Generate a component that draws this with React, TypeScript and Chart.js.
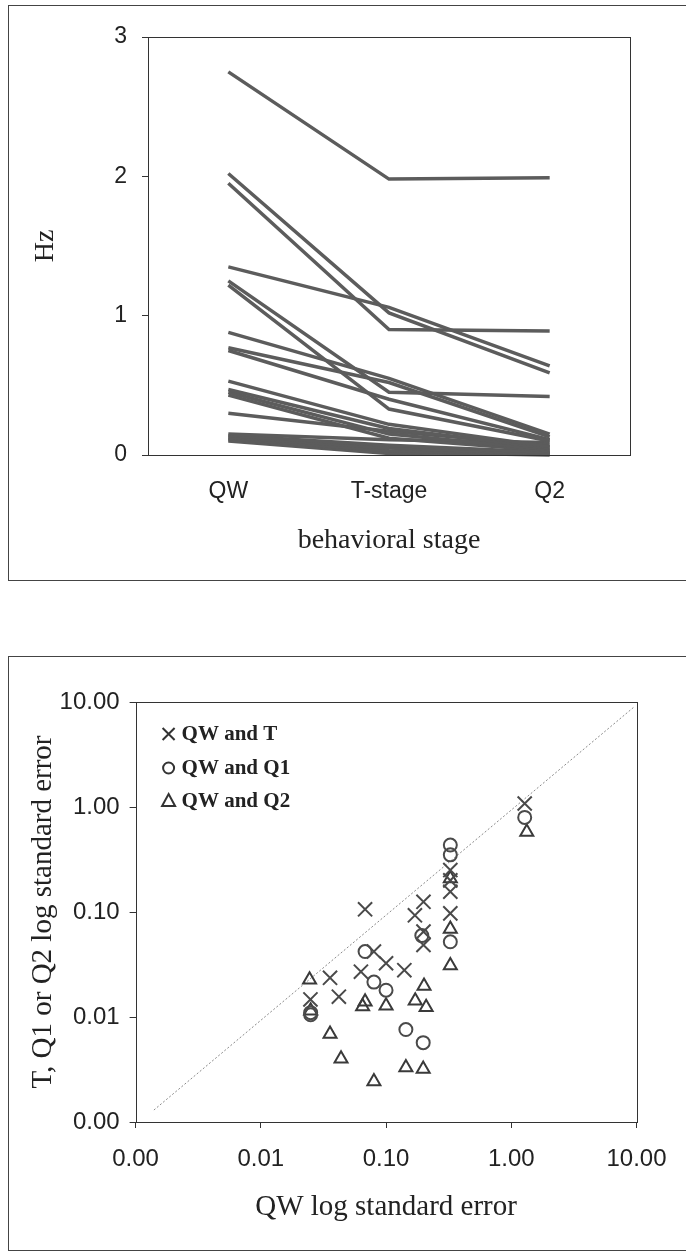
import React, { useEffect, useRef } from 'react';
import { Chart, registerables } from 'chart.js';

Chart.register(...registerables);

// ---------- Top chart: firing rate per behavioral stage ----------
const stages = ['QW', 'T-stage', 'Q2'];
const hzTicks = [0, 1, 2, 3];

const unit01 = [2.75, 1.98, 1.99];
const unit02 = [2.02, 1.02, 0.59];
const unit03 = [1.95, 0.9, 0.89];
const unit04 = [1.35, 1.06, 0.64];
const unit05 = [1.25, 0.45, 0.42];
const unit06 = [1.22, 0.33, 0.1];
const unit07 = [0.88, 0.55, 0.15];
const unit08 = [0.77, 0.52, 0.13];
const unit09 = [0.75, 0.4, 0.11];
const unit10 = [0.53, 0.22, 0.06];
const unit11 = [0.47, 0.19, 0.05];
const unit12 = [0.45, 0.15, 0.04];
const unit13 = [0.43, 0.12, 0.03];
const unit14 = [0.3, 0.17, 0.07];
const unit15 = [0.15, 0.11, 0.09];
const unit16 = [0.14, 0.07, 0.02];
const unit17 = [0.13, 0.05, 0.01];
const unit18 = [0.12, 0.03, 0.01];
const unit19 = [0.11, 0.02, 0.0];
const unit20 = [0.1, 0.01, 0.02];
const units = [
  unit01, unit02, unit03, unit04, unit05, unit06, unit07, unit08, unit09, unit10,
  unit11, unit12, unit13, unit14, unit15, unit16, unit17, unit18, unit19, unit20,
];

// ---------- Bottom chart: log standard errors ----------
const logTicks = [0.001, 0.01, 0.1, 1, 10];

const qwT_x = [1.28, 0.326, 0.326, 0.326, 0.326, 0.17, 0.199, 0.199, 0.199, 0.068, 0.08, 0.1, 0.063, 0.14, 0.0357, 0.042, 0.0249];
const qwT_y = [1.08, 0.251, 0.2, 0.156, 0.097, 0.093, 0.125, 0.065, 0.0485, 0.106, 0.042, 0.0325, 0.027, 0.0279, 0.0236, 0.0156, 0.0147];

const qwQ1_x = [1.28, 0.326, 0.326, 0.326, 0.193, 0.068, 0.08, 0.1, 0.144, 0.198, 0.025, 0.025];
const qwQ1_y = [0.796, 0.434, 0.35, 0.052, 0.0596, 0.042, 0.0215, 0.018, 0.0076, 0.0057, 0.011, 0.0105];

const qwQ2_x = [1.33, 0.326, 0.326, 0.326, 0.201, 0.171, 0.209, 0.1, 0.068, 0.065, 0.0245, 0.025, 0.0357, 0.0437, 0.08, 0.144, 0.198];
const qwQ2_y = [0.578, 0.208, 0.069, 0.031, 0.0197, 0.0143, 0.0124, 0.0128, 0.014, 0.0126, 0.0226, 0.0115, 0.0069, 0.004, 0.00243, 0.0033, 0.0032];

const diagX = [0.0014, 9.7];
const diagY = [0.0013, 9.1];

const seriesLabels = ['QW and T', 'QW and Q1', 'QW and Q2'];

const SANS = '"Liberation Sans", Arial, sans-serif';
const SERIF = '"Liberation Serif", "Times New Roman", serif';
const INK = '#222';

const zip = (xs: number[], ys: number[]) => xs.map((x, i) => ({ x, y: ys[i] }));

const boxPlugin = {
  id: 'plotBox',
  afterDatasetsDraw(chart: any) {
    const { ctx, chartArea } = chart;
    ctx.save();
    ctx.strokeStyle = '#333';
    ctx.lineWidth = 1;
    ctx.strokeRect(
      Math.round(chartArea.left) + 0.5,
      Math.round(chartArea.top) + 0.5,
      Math.round(chartArea.right - chartArea.left),
      Math.round(chartArea.bottom - chartArea.top)
    );
    ctx.restore();
  },
};

const innerLegendPlugin = {
  id: 'innerLegend',
  afterDraw(chart: any) {
    const { ctx, chartArea } = chart;
    const sx = chartArea.left + 33;
    const rowOffsets = [32, 66, 99];
    ctx.save();
    chart.data.datasets.forEach((ds: any, i: number) => {
      if (i > 2) return;
      const cy = chartArea.top + rowOffsets[i];
      ctx.strokeStyle = '#333';
      ctx.lineWidth = 2;
      ctx.beginPath();
      if (ds.pointStyle === 'crossRot') {
        ctx.moveTo(sx - 6, cy - 6);
        ctx.lineTo(sx + 6, cy + 6);
        ctx.moveTo(sx + 6, cy - 6);
        ctx.lineTo(sx - 6, cy + 6);
      } else if (ds.pointStyle === 'circle') {
        ctx.arc(sx, cy, 5.5, 0, Math.PI * 2);
      } else {
        ctx.moveTo(sx, cy - 7);
        ctx.lineTo(sx + 6.5, cy + 5);
        ctx.lineTo(sx - 6.5, cy + 5);
        ctx.closePath();
      }
      ctx.stroke();
      ctx.fillStyle = INK;
      ctx.font = `bold 21px ${SERIF}`;
      ctx.textAlign = 'left';
      ctx.textBaseline = 'middle';
      ctx.fillText(ds.label, sx + 13, cy + 1);
    });
    ctx.restore();
  },
};

export default function App() {
  const topRef = useRef<HTMLCanvasElement>(null);
  const botRef = useRef<HTMLCanvasElement>(null);

  useEffect(() => {
    const topChart = new Chart(topRef.current as HTMLCanvasElement, {
      type: 'line',
      data: {
        labels: stages,
        datasets: units.map((u, i) => ({
          label: `unit ${i + 1}`,
          data: u,
          borderColor: '#5c5c5c',
          borderWidth: 3.5,
          pointRadius: 0,
          fill: false,
          tension: 0,
          clip: false as any,
        })),
      },
      options: {
        animation: false,
        responsive: false,
        events: [],
        layout: { padding: { top: 37, right: 56, left: 0, bottom: 0 } },
        plugins: { legend: { display: false }, tooltip: { enabled: false } },
        scales: {
          x: {
            type: 'category',
            offset: true,
            grid: { display: false, drawTicks: false, tickLength: 0 },
            border: { display: false },
            ticks: { color: INK, font: { family: SANS, size: 23 }, padding: 23 },
            title: {
              display: true,
              text: 'behavioral stage',
              color: INK,
              font: { family: SERIF, size: 28 },
              padding: { top: 0, bottom: 33 },
            },
            afterFit: (scale: any) => { scale.height = 135; },
          },
          y: {
            min: 0,
            max: 3,
            afterBuildTicks: (scale: any) => { scale.ticks = hzTicks.map((v) => ({ value: v })); },
            grid: { drawOnChartArea: false, drawTicks: true, tickLength: 6, color: '#333' },
            border: { display: false },
            ticks: { color: INK, font: { family: SANS, size: 23 }, padding: 15 },
            title: {
              display: true,
              text: 'Hz',
              color: INK,
              font: { family: SERIF, size: 28 },
              padding: { top: 29, bottom: 0 },
            },
            afterFit: (scale: any) => { scale.width = 148; },
          },
        },
      } as any,
      plugins: [boxPlugin],
    });

    const markerColor = '#4a4a4a';
    const botChart = new Chart(botRef.current as HTMLCanvasElement, {
      type: 'scatter',
      data: {
        datasets: [
          {
            label: seriesLabels[0],
            data: zip(qwT_x, qwT_y),
            pointStyle: 'crossRot',
            pointRadius: 10,
            borderWidth: 2,
            borderColor: markerColor,
            backgroundColor: 'rgba(0,0,0,0)',
          },
          {
            label: seriesLabels[1],
            data: zip(qwQ1_x, qwQ1_y),
            pointStyle: 'circle',
            pointRadius: 6.5,
            borderWidth: 2,
            borderColor: markerColor,
            backgroundColor: 'rgba(0,0,0,0)',
          },
          {
            label: seriesLabels[2],
            data: zip(qwQ2_x, qwQ2_y),
            pointStyle: 'triangle',
            pointRadius: 7.5,
            borderWidth: 2,
            borderColor: '#3a3a3a',
            backgroundColor: 'rgba(0,0,0,0)',
          },
          {
            type: 'line',
            label: 'identity',
            data: zip(diagX, diagY),
            showLine: true,
            borderColor: '#8a8a8a',
            borderWidth: 1,
            borderDash: [2, 2],
            pointRadius: 0,
            fill: false,
          } as any,
        ],
      },
      options: {
        animation: false,
        responsive: false,
        events: [],
        layout: { padding: { top: 102, right: 49.5, left: 0, bottom: 0 } },
        plugins: { legend: { display: false }, tooltip: { enabled: false } },
        scales: {
          x: {
            type: 'logarithmic',
            min: 0.001,
            max: 10,
            afterBuildTicks: (scale: any) => { scale.ticks = logTicks.map((v) => ({ value: v })); },
            grid: { drawOnChartArea: false, drawTicks: true, tickLength: 6, color: '#333' },
            border: { display: false },
            ticks: {
              color: INK,
              font: { family: SANS, size: 24 },
              padding: 17,
              maxRotation: 0,
              autoSkip: false,
              callback: (v: any) => Number(v).toFixed(2),
            },
            title: {
              display: true,
              text: 'QW log standard error',
              color: INK,
              font: { family: SERIF, size: 29 },
              padding: { top: 0, bottom: 35 },
            },
            afterFit: (scale: any) => { scale.height = 138; },
          },
          y: {
            type: 'logarithmic',
            min: 0.001,
            max: 10,
            afterBuildTicks: (scale: any) => { scale.ticks = logTicks.map((v) => ({ value: v })); },
            grid: { drawOnChartArea: false, drawTicks: true, tickLength: 6, color: '#333' },
            border: { display: false },
            ticks: {
              color: INK,
              font: { family: SANS, size: 24 },
              padding: 10,
              autoSkip: false,
              callback: (v: any) => Number(v).toFixed(2),
            },
            title: {
              display: true,
              text: 'T, Q1 or Q2 log standard error',
              color: INK,
              font: { family: SERIF, size: 29 },
              padding: { top: 26, bottom: 0 },
            },
            afterFit: (scale: any) => { scale.width = 135.6; },
          },
        },
      } as any,
      plugins: [boxPlugin, innerLegendPlugin],
    });

    return () => {
      topChart.destroy();
      botChart.destroy();
    };
  }, []);

  return (
    <div
      style={{
        position: 'absolute',
        left: 0,
        top: 0,
        width: 686,
        height: 1260,
        overflow: 'hidden',
        background: '#fff',
      }}
    >
      <canvas ref={topRef} width={686} height={590} style={{ position: 'absolute', left: 0, top: 0 }} />
      <canvas ref={botRef} width={686} height={660} style={{ position: 'absolute', left: 0, top: 600 }} />
      <div
        style={{
          position: 'absolute',
          left: 8,
          top: 5,
          width: 720,
          height: 574,
          border: '1px solid #444',
          pointerEvents: 'none',
        }}
      />
      <div
        style={{
          position: 'absolute',
          left: 8,
          top: 656,
          width: 720,
          height: 593,
          border: '1px solid #444',
          pointerEvents: 'none',
        }}
      />
    </div>
  );
}
